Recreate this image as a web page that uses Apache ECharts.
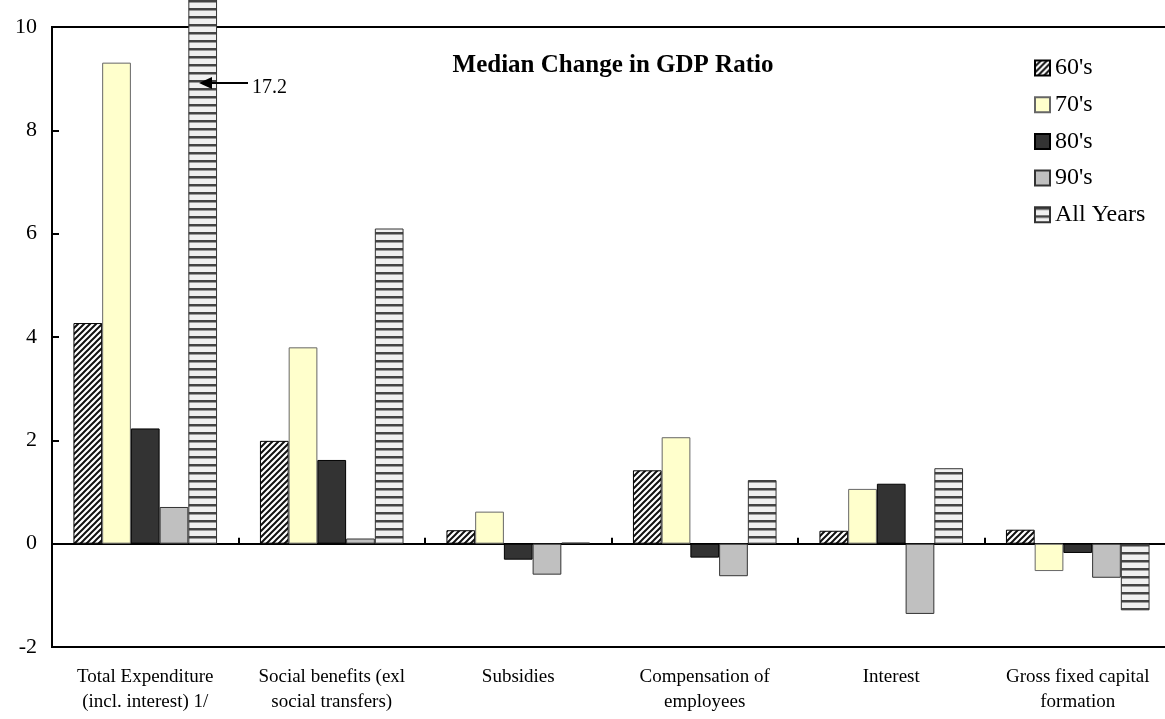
<!DOCTYPE html>
<html>
<head>
<meta charset="utf-8">
<script src="https://cdn.jsdelivr.net/npm/echarts@6/dist/echarts.min.js"></script>
<style>
html,body{margin:0;padding:0;background:#fff;overflow:hidden;}
#main{width:1185px;height:719px;}
</style>
</head>
<body>
<div id="main"></div>
<script>
// ---- data ----
var categories = [
  'Total Expenditure\n(incl. interest) 1/',
  'Social benefits (exl\nsocial transfers)',
  'Subsidies',
  'Compensation of\nemployees',
  'Interest',
  'Gross fixed capital\nformation'
];
var seriesNames = ["60's", "70's", "80's", "90's", "All Years"];
var s60 = [4.27, 1.99, 0.26, 1.42, 0.25, 0.27];
var s70 = [9.31, 3.80, 0.62, 2.06, 1.06, -0.53];
var s80 = [2.23, 1.62, -0.31, -0.27, 1.16, -0.18];
var s90 = [0.71, 0.10, -0.60, -0.63, -1.36, -0.66];
var sAll = [17.2, 6.10, 0.02, 1.23, 1.46, -1.29];
var yTicks = {min: -2, max: 10, interval: 2};
var chartTitle = 'Median Change in GDP Ratio';
var annotationText = '17.2';

// ---- patterns ----
function diagPattern() {
  var c = document.createElement('canvas');
  c.width = 6; c.height = 6;
  var g = c.getContext('2d');
  g.fillStyle = '#ffffff'; g.fillRect(0, 0, 6, 6);
  g.strokeStyle = '#111111'; g.lineWidth = 2;
  g.beginPath();
  g.moveTo(-1, 7); g.lineTo(7, -1);
  g.moveTo(-4, 4); g.lineTo(4, -4);
  g.moveTo(2, 10); g.lineTo(10, 2);
  g.stroke();
  return c;
}
function horizPattern() {
  var c = document.createElement('canvas');
  c.width = 8; c.height = 8;
  var g = c.getContext('2d');
  g.fillStyle = '#f0f0f0'; g.fillRect(0, 0, 8, 8);
  g.fillStyle = '#444444'; g.fillRect(0, 0, 8, 2);
  g.fillStyle = '#999999'; g.fillRect(0, 2, 8, 1);
  return c;
}

var font = "'Liberation Serif', 'Times New Roman', serif";
var chart = echarts.init(document.getElementById('main'), null, {renderer: 'canvas'});

var styles = [
  {color: {image: diagPattern(), repeat: 'repeat'}, borderColor: '#000', borderWidth: 1},
  {color: '#FFFFCC', borderColor: '#666', borderWidth: 1},
  {color: '#333333', borderColor: '#000', borderWidth: 1},
  {color: '#C0C0C0', borderColor: '#333', borderWidth: 1},
  {color: {image: horizPattern(), repeat: 'repeat'}, borderColor: '#333', borderWidth: 1}
];
var values = [s60, s70, s80, s90, sAll];

var series = seriesNames.map(function (n, i) {
  return {
    name: n,
    type: 'bar',
    xAxisIndex: 0,
    yAxisIndex: 0,
    data: values[i],
    barGap: '0%',
    barCategoryGap: '23%',
    clip: false,
    itemStyle: styles[i],
    emphasis: {disabled: true},
    z: 3
  };
});

chart.setOption({
  animation: false,
  backgroundColor: '#fff',
  textStyle: {fontFamily: font},
  grid: {
    left: 52, top: 27, bottom: 72, right: 14,
    show: true, borderColor: '#000', borderWidth: 2, backgroundColor: 'transparent'
  },
  title: {
    text: chartTitle,
    left: 608, top: 48, textAlign: 'center',
    textStyle: {fontFamily: font, fontSize: 25, fontWeight: 'bold', color: '#000'}
  },
  legend: {
    orient: 'vertical',
    left: 1029, top: 51,
    itemWidth: 15, itemHeight: 15, itemGap: 12.7,
    icon: 'rect',
    selectedMode: false,
    textStyle: {fontFamily: font, fontSize: 24, color: '#000', lineHeight: 24},
    data: seriesNames
  },
  xAxis: [
    {
      type: 'category', data: categories, position: 'bottom',
      axisLine: {onZero: true, lineStyle: {color: '#000', width: 2}},
      axisTick: {show: true, inside: true, length: 6, lineStyle: {color: '#000', width: 2}},
      axisLabel: {show: false},
      splitLine: {show: false}
    },
    {
      type: 'category', data: categories, position: 'bottom',
      axisLine: {show: false, onZero: false},
      axisTick: {show: false},
      axisLabel: {show: true, interval: 0, margin: 18, fontFamily: font, fontSize: 19, color: '#000', lineHeight: 25},
      splitLine: {show: false}
    }
  ],
  yAxis: {
    type: 'value', min: yTicks.min, max: yTicks.max, interval: yTicks.interval,
    axisLine: {show: true, lineStyle: {color: '#000', width: 2}},
    axisTick: {show: true, inside: true, length: 7, lineStyle: {color: '#000', width: 2}},
    axisLabel: {fontFamily: font, fontSize: 22, color: '#000', margin: 15},
    splitLine: {show: false}
  },
  series: series,
  graphic: [
    {type: 'line', shape: {x1: 248, y1: 83, x2: 208, y2: 83}, style: {stroke: '#000', lineWidth: 2}, z: 10},
    {type: 'polygon', shape: {points: [[199, 83], [212, 77], [212, 89]]}, style: {fill: '#000'}, z: 10},
    {type: 'text', left: 252, top: 78, style: {text: annotationText, fontFamily: font, fontSize: 20, fill: '#000'}, z: 10}
  ]
});
</script>
</body>
</html>
